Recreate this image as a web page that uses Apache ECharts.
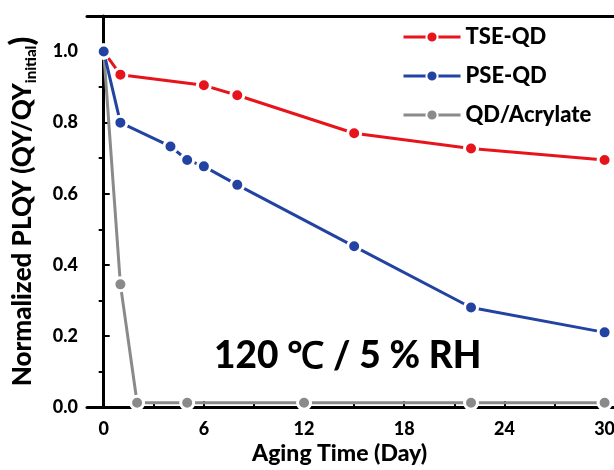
<!DOCTYPE html>
<html>
<head>
<meta charset="utf-8">
<script src="https://cdn.jsdelivr.net/npm/echarts@6/dist/echarts.min.js"></script>
<style>
  html, body { margin: 0; padding: 0; background: #fff; }
  #main { width: 614px; height: 470px; }
</style>
</head>
<body>
<div id="main"></div>
<script>
// aging time (day) and normalized PLQY
const tseDays = [0, 1, 6, 8, 15, 22, 30];
const tseValues = [1.0, 0.935, 0.905, 0.877, 0.77, 0.727, 0.695];

const pseDays = [0, 1, 4, 5, 6, 8, 15, 22, 30];
const pseValues = [1.0, 0.80, 0.733, 0.695, 0.677, 0.625, 0.452, 0.28, 0.21];

const acrDays = [0, 1, 2, 5, 12, 22, 30];
const acrValues = [1.0, 0.345, 0.012, 0.012, 0.012, 0.012, 0.012];

const xMajorTicks = [0, 6, 12, 18, 24, 30];
const xMinorTicks = [3, 9, 15, 21, 27];
const yMajorTicks = [0, 0.2, 0.4, 0.6, 0.8, 1.0];
const yMinorTicks = [0.1, 0.3, 0.5, 0.7, 0.9];

const FONT = 'Lato';
const W = 900;

const chart = echarts.init(document.getElementById('main'));

function pairs(xs, ys) {
  return xs.map((x, i) => [x, ys[i]]);
}

function lineSeries(name, color, xs, ys) {
  return {
    name: name,
    type: 'line',
    data: pairs(xs, ys),
    symbol: 'circle',
    symbolSize: 13,
    lineStyle: { color: color, width: 3 },
    itemStyle: { color: color, borderColor: '#fff', borderWidth: 3 },
    emphasis: { disabled: true },
    animation: false
  };
}

const axisBase = {
  type: 'value',
  min: -1,
  max: 32,
  splitLine: { show: false }
};

const option = {
  backgroundColor: '#fff',
  grid: { left: 87, top: 16, width: 551, bottom: 63, containLabel: false, outerBoundsMode: 'none' },
  legend: {
    orient: 'vertical',
    left: 397,
    top: 21,
    itemWidth: 57,
    itemHeight: 14,
    itemGap: 17,
    data: ['TSE-QD', 'PSE-QD', 'QD/Acrylate'],
    lineStyle: { width: 3 },
    textStyle: { fontFamily: FONT, fontWeight: W, fontSize: 22, color: '#000' }
  },
  xAxis: [
    Object.assign({}, axisBase, {
      position: 'bottom',
      axisLine: { lineStyle: { color: '#000', width: 3 } },
      axisTick: { inside: true, length: 6, customValues: xMajorTicks, lineStyle: { color: '#000', width: 2 } },
      axisLabel: {
        customValues: xMajorTicks, margin: 13,
        fontFamily: FONT, fontWeight: W, fontSize: 18, color: '#000'
      }
    }),
    Object.assign({}, axisBase, {
      position: 'bottom',
      axisLine: { show: false },
      axisTick: { inside: true, length: 3, customValues: xMinorTicks, lineStyle: { color: '#000', width: 2 } },
      axisLabel: { show: false }
    }),
    Object.assign({}, axisBase, {
      position: 'top',
      axisLine: { lineStyle: { color: '#000', width: 3 } },
      axisTick: { show: false },
      axisLabel: { show: false }
    })
  ],
  yAxis: [
    {
      type: 'value',
      min: 0,
      max: 1.1,
      splitLine: { show: false },
      axisLine: { show: true, lineStyle: { color: '#000', width: 3 } },
      axisTick: { inside: true, length: 6, customValues: yMajorTicks, lineStyle: { color: '#000', width: 2 } },
      axisLabel: {
        customValues: yMajorTicks, margin: 9,
        formatter: v => v.toFixed(1),
        fontFamily: FONT, fontWeight: W, fontSize: 18, color: '#000'
      },
      name: '{a|Normalized PLQY (QY/QY}{s|initial}{p|)}',
      nameLocation: 'middle',
      nameGap: 48,
      nameTextStyle: {
        rich: {
          a: { fontFamily: FONT, fontWeight: W, fontSize: 26, color: '#000' },
          s: { fontFamily: FONT, fontWeight: W, fontSize: 15, color: '#000', verticalAlign: 'bottom', padding: [17, 0, 0, 0] },
          p: { fontFamily: FONT, fontWeight: W, fontSize: 32, color: '#000' }
        }
      }
    },
    {
      type: 'value',
      min: 0,
      max: 1.1,
      splitLine: { show: false },
      axisLine: { show: false },
      axisTick: { inside: true, length: 5, customValues: yMinorTicks, lineStyle: { color: '#000', width: 2 } },
      axisLabel: { show: false }
    }
  ],
  graphic: [
    {
      type: 'text',
      left: 252,
      top: 442,
      style: { text: 'Aging Time (Day)', fontFamily: FONT, fontWeight: W, fontSize: 23, fill: '#000' }
    },
    {
      type: 'text',
      left: 214,
      top: 338,
      style: { text: '120 ℃ / 5 % RH', fontFamily: FONT, fontWeight: W, fontSize: 37, fill: '#000' }
    }
  ],
  series: [
    lineSeries('QD/Acrylate', '#8a8a8a', acrDays, acrValues),
    lineSeries('TSE-QD', '#e8141c', tseDays, tseValues),
    lineSeries('PSE-QD', '#2343a3', pseDays, pseValues)
  ]
};

chart.setOption(option);
</script>
</body>
</html>
